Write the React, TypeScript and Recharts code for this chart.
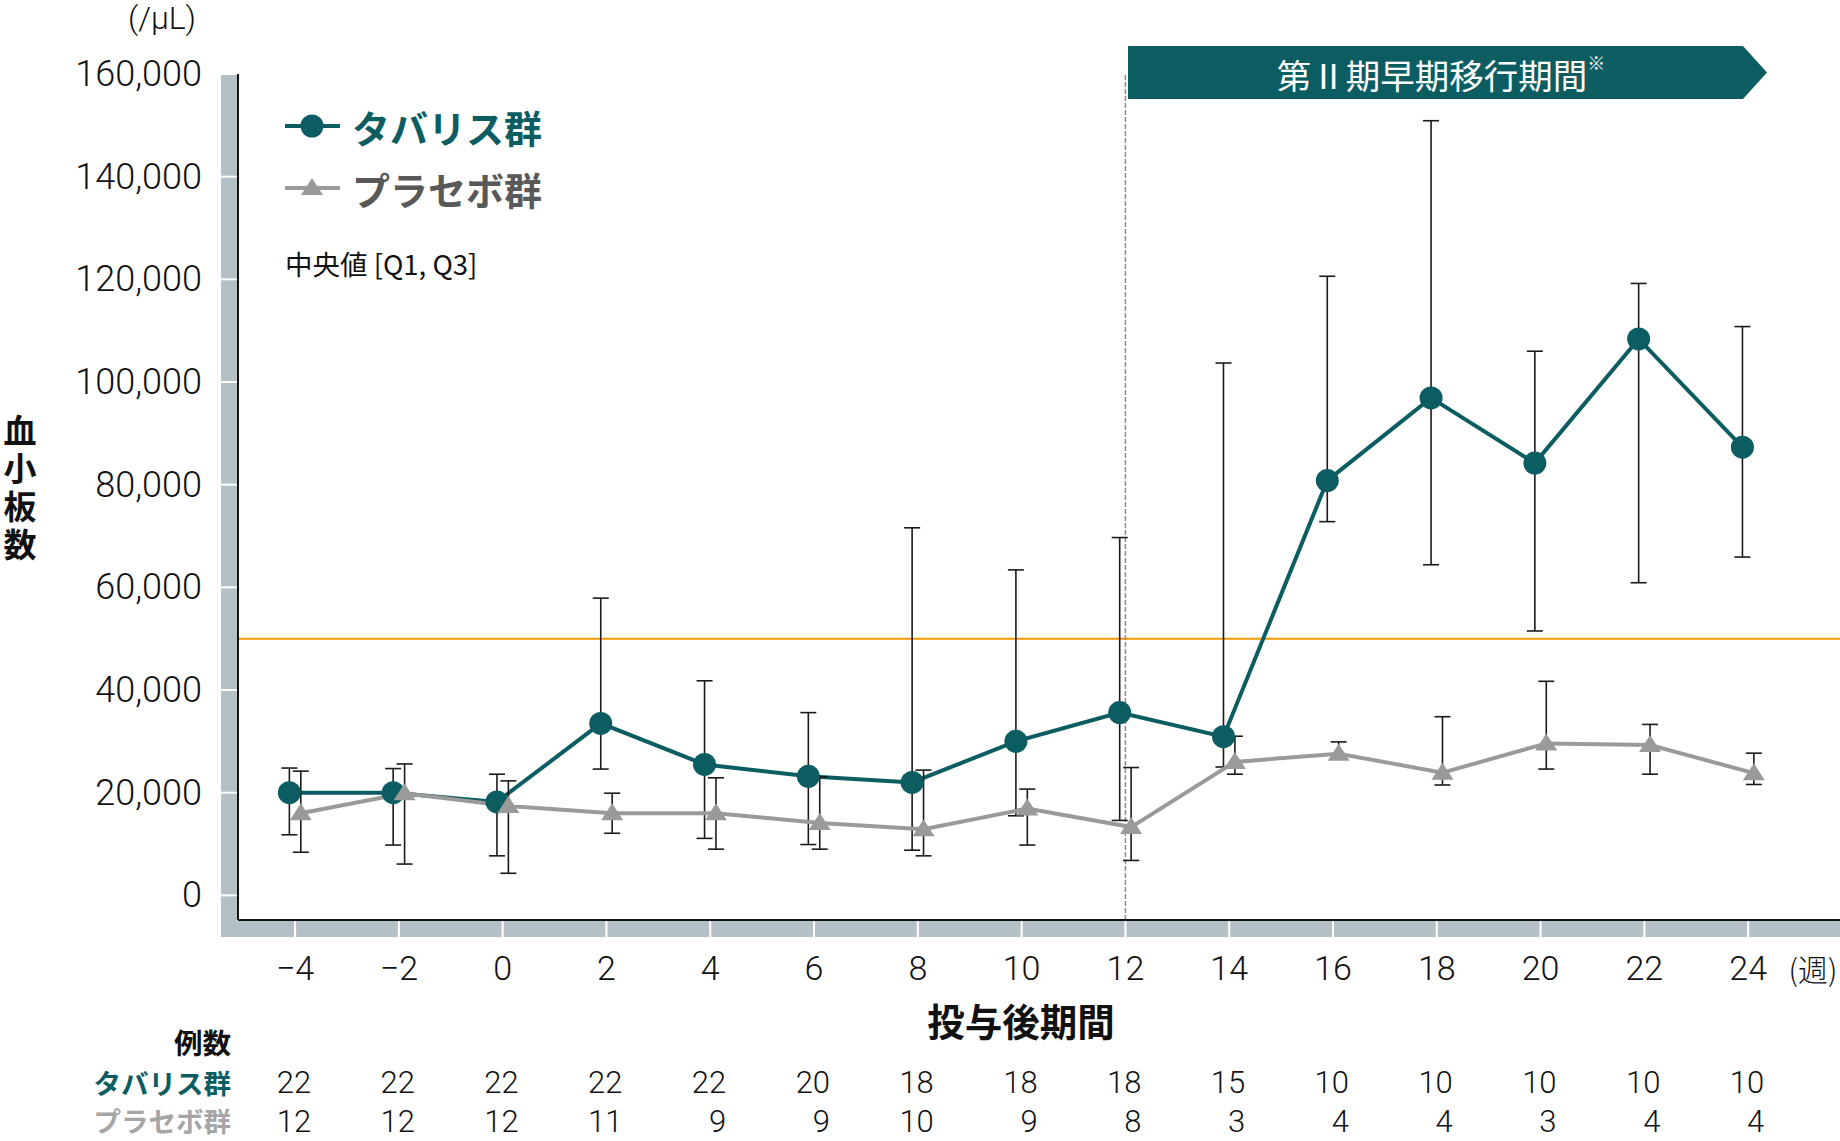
import React from 'react';
import {
  LineChart,
  Line,
  XAxis,
  YAxis,
  ErrorBar,
  ReferenceLine
} from 'recharts';

// 投与後期間（週）
const weeks = [-4, -2, 0, 2, 4, 6, 8, 10, 12, 14, 16, 18, 20, 22, 24];

// タバリス群 中央値 [Q1, Q3]
const tabarisMedian = [20000, 20000, 18200, 33500, 25500, 23200, 22000, 30000, 35600, 30900, 80800, 96900, 84200, 108400, 87300];
const tabarisQ1 = [11800, 9800, 7700, 24600, 11100, 9900, 8800, 15500, 14600, 25000, 72800, 64400, 51500, 60900, 65900];
const tabarisQ3 = [24800, 24700, 23600, 57900, 41800, 35600, 71600, 63400, 69700, 103700, 120600, 150900, 106000, 119200, 110800];

// プラセボ群 中央値 [Q1, Q3]
const placeboMedian = [16000, 19900, 17400, 16000, 16000, 14100, 12900, 16900, 13300, 26000, 27600, 23900, 29600, 29300, 23800];
const placeboQ1 = [8400, 6100, 4300, 12100, 9000, 9000, 7700, 9800, 6800, 23600, 26800, 21500, 24600, 23600, 21600];
const placeboQ3 = [24200, 25600, 22300, 19900, 22900, 23100, 24400, 20700, 24900, 31000, 29900, 34800, 41700, 33300, 27700];

// 例数
const tabarisN = [22, 22, 22, 22, 22, 20, 18, 18, 18, 15, 10, 10, 10, 10, 10];
const placeboN = [12, 12, 12, 11, 9, 9, 10, 9, 8, 3, 4, 4, 3, 4, 4];

const yTicks = [0, 20000, 40000, 60000, 80000, 100000, 120000, 140000, 160000];

const W = 1840;
const H = 1141;
const PLOT_LEFT = 238;
const PLOT_TOP = 74;
const PLOT_BOTTOM = 920;
const BAND = 16;

const TEAL = '#0b5d61';
const GRAY = '#9a9a9a';
const BAND_COLOR = '#b3c1c7';
const ORANGE = '#f39800';
const FONT = '"Noto Sans CJK JP", "Noto Sans", sans-serif';
const NUM_FONT = 'Roboto, "Noto Sans", sans-serif';

// the two groups are drawn slightly apart around each week (weeks)
const DODGE = 0.11;

const tabarisData = weeks.map((w, i) => ({
  x: w - DODGE,
  y: tabarisMedian[i],
  err: [tabarisMedian[i] - tabarisQ1[i], tabarisQ3[i] - tabarisMedian[i]]
}));

const placeboData = weeks.map((w, i) => ({
  x: w + DODGE,
  y: placeboMedian[i],
  err: [placeboMedian[i] - placeboQ1[i], placeboQ3[i] - placeboMedian[i]]
}));

const fmtWeek = (v: number) => (v < 0 ? `−${Math.abs(v)}` : `${v}`);

const XTick = (props: any) => {
  const { x, y, payload } = props;
  const i = weeks.indexOf(payload.value);
  return (
    <g>
      <line x1={x} x2={x} y1={y + 1} y2={y + BAND + 1} stroke="#fff" strokeWidth={2} />
      <text x={x} y={y + 48} textAnchor="middle" dominantBaseline="central"
        fontFamily={NUM_FONT} fontWeight={300} fontSize={34} fill="#111">
        {fmtWeek(payload.value)}
      </text>
      <text x={x + 16} y={y + 162} textAnchor="end" dominantBaseline="central"
        fontFamily={NUM_FONT} fontWeight={300} fontSize={31} fill="#111">
        {tabarisN[i]}
      </text>
      <text x={x + 16} y={y + 201} textAnchor="end" dominantBaseline="central"
        fontFamily={NUM_FONT} fontWeight={300} fontSize={31} fill="#111">
        {placeboN[i]}
      </text>
    </g>
  );
};

const YTick = (props: any) => {
  const { x, y, payload } = props;
  return (
    <g>
      <line x1={x - BAND - 1} x2={x - 1} y1={y} y2={y} stroke="#fff" strokeWidth={2} />
      <text x={x - 36} y={y} textAnchor="end" dominantBaseline="central"
        fontFamily={NUM_FONT} fontWeight={300} fontSize={36} fill="#111">
        {payload.value.toLocaleString('en-US')}
      </text>
    </g>
  );
};

const triangle = (cx: number, cy: number) =>
  `${cx},${cy - 10} ${cx + 11},${cy + 7} ${cx - 11},${cy + 7}`;

const TriangleDot = (props: any) => {
  const { cx, cy, index } = props;
  if (cx == null || cy == null) return <g key={`t-${index}`} />;
  return <polygon key={`t-${index}`} points={triangle(cx, cy)} fill={GRAY} />;
};

const App = () => (
  <div style={{ position: 'absolute', left: 0, top: 0, width: W, height: H, background: '#fff' }}>
    {/* gray axis bands */}
    <svg width={W} height={H} style={{ position: 'absolute', left: 0, top: 0 }}>
      <rect x={PLOT_LEFT - BAND - 1} y={PLOT_TOP} width={BAND} height={PLOT_BOTTOM - PLOT_TOP + BAND + 1} fill={BAND_COLOR} />
      <rect x={PLOT_LEFT - BAND - 1} y={PLOT_BOTTOM + 1} width={W} height={BAND} fill={BAND_COLOR} />
    </svg>

    <div style={{ position: 'absolute', left: 0, top: 0 }}>
      <LineChart width={W} height={H} margin={{ top: PLOT_TOP, right: 0, bottom: 0, left: 0 }}>
        <XAxis
          type="number"
          dataKey="x"
          domain={[-5.1, 25.77]}
          ticks={weeks}
          interval={0}
          height={H - PLOT_BOTTOM}
          axisLine={{ stroke: '#111', strokeWidth: 2 }}
          tickLine={false}
          tickSize={0}
          tickMargin={0}
          tick={XTick}
          allowDataOverflow
        />
        <YAxis
          type="number"
          domain={[-4800, 160000]}
          ticks={yTicks}
          interval={0}
          width={PLOT_LEFT}
          axisLine={{ stroke: '#111', strokeWidth: 2 }}
          tickLine={false}
          tickSize={0}
          tickMargin={0}
          tick={YTick}
          allowDataOverflow
        />
        <ReferenceLine y={50000} stroke={ORANGE} strokeWidth={2} />
        <ReferenceLine x={12} stroke="#8c8c8c" strokeWidth={1.5} strokeDasharray="5 2" />
        <Line
          data={tabarisData}
          dataKey="y"
          name="タバリス群"
          type="linear"
          stroke={TEAL}
          strokeWidth={4}
          dot={{ r: 11.5, fill: TEAL, stroke: TEAL, strokeWidth: 0 }}
          activeDot={false}
          isAnimationActive={false}
        >
          <ErrorBar dataKey="err" direction="y" width={8} stroke="#1a1a1a" strokeWidth={1.6} isAnimationActive={false} />
        </Line>
        <Line
          data={placeboData}
          dataKey="y"
          name="プラセボ群"
          type="linear"
          stroke={GRAY}
          strokeWidth={4}
          dot={TriangleDot}
          activeDot={false}
          isAnimationActive={false}
        >
          <ErrorBar dataKey="err" direction="y" width={8} stroke="#1a1a1a" strokeWidth={1.6} isAnimationActive={false} />
        </Line>
      </LineChart>
    </div>

    {/* y axis title, set vertically */}
    <div
      style={{
        position: 'absolute',
        left: 3,
        top: 414,
        writingMode: 'vertical-rl',
        fontFamily: FONT,
        fontWeight: 700,
        fontSize: 33,
        lineHeight: 1,
        letterSpacing: 5,
        color: '#111'
      }}
    >
      血小板数
    </div>

    {/* annotations */}
    <svg width={W} height={H} style={{ position: 'absolute', left: 0, top: 0, pointerEvents: 'none' }}>
      <text x={162} y={18} textAnchor="middle" dominantBaseline="central" fontFamily={NUM_FONT} fontWeight={300} fontSize={32} fill="#111">(/μL)</text>

      <line x1={285} x2={340} y1={126} y2={126} stroke={TEAL} strokeWidth={4} />
      <circle cx={312} cy={126} r={11.5} fill={TEAL} />
      <text x={352} y={126} dominantBaseline="central" fontFamily={FONT} fontWeight={700} fontSize={38} fill={TEAL}>タバリス群</text>
      <line x1={285} x2={340} y1={188} y2={188} stroke={GRAY} strokeWidth={4} />
      <polygon points={triangle(312, 188)} fill={GRAY} />
      <text x={352} y={188} dominantBaseline="central" fontFamily={FONT} fontWeight={700} fontSize={38} fill="#595959">プラセボ群</text>
      <text x={285} y={263} dominantBaseline="central" fontFamily={FONT} fontWeight={400} fontSize={27.5} fill="#111">中央値 [Q1, Q3]</text>

      <polygon points="1128,46 1743,46 1767,72.5 1743,99 1128,99" fill={TEAL} />
      <text x={1441} y={74} textAnchor="middle" dominantBaseline="central" fontFamily={FONT} fontWeight={400} fontSize={34.5} fill="#fff">
        第Ⅱ期早期移行期間<tspan fontSize={18} dy={-12}>※</tspan>
      </text>

      <text x={1813} y={968} textAnchor="middle" dominantBaseline="central" fontFamily={FONT} fontWeight={300} fontSize={30} fill="#111">(週)</text>
      <text x={1021} y={1019} textAnchor="middle" dominantBaseline="central" fontFamily={FONT} fontWeight={700} fontSize={37.5} fill="#111">投与後期間</text>
      <text x={231} y={1041} textAnchor="end" dominantBaseline="central" fontFamily={FONT} fontWeight={700} fontSize={28.5} fill="#111">例数</text>
      <text x={231} y={1082} textAnchor="end" dominantBaseline="central" fontFamily={FONT} fontWeight={700} fontSize={27.5} fill={TEAL}>タバリス群</text>
      <text x={231} y={1120} textAnchor="end" dominantBaseline="central" fontFamily={FONT} fontWeight={700} fontSize={27.5} fill="#a6a6a6">プラセボ群</text>
    </svg>
  </div>
);

export default App;
